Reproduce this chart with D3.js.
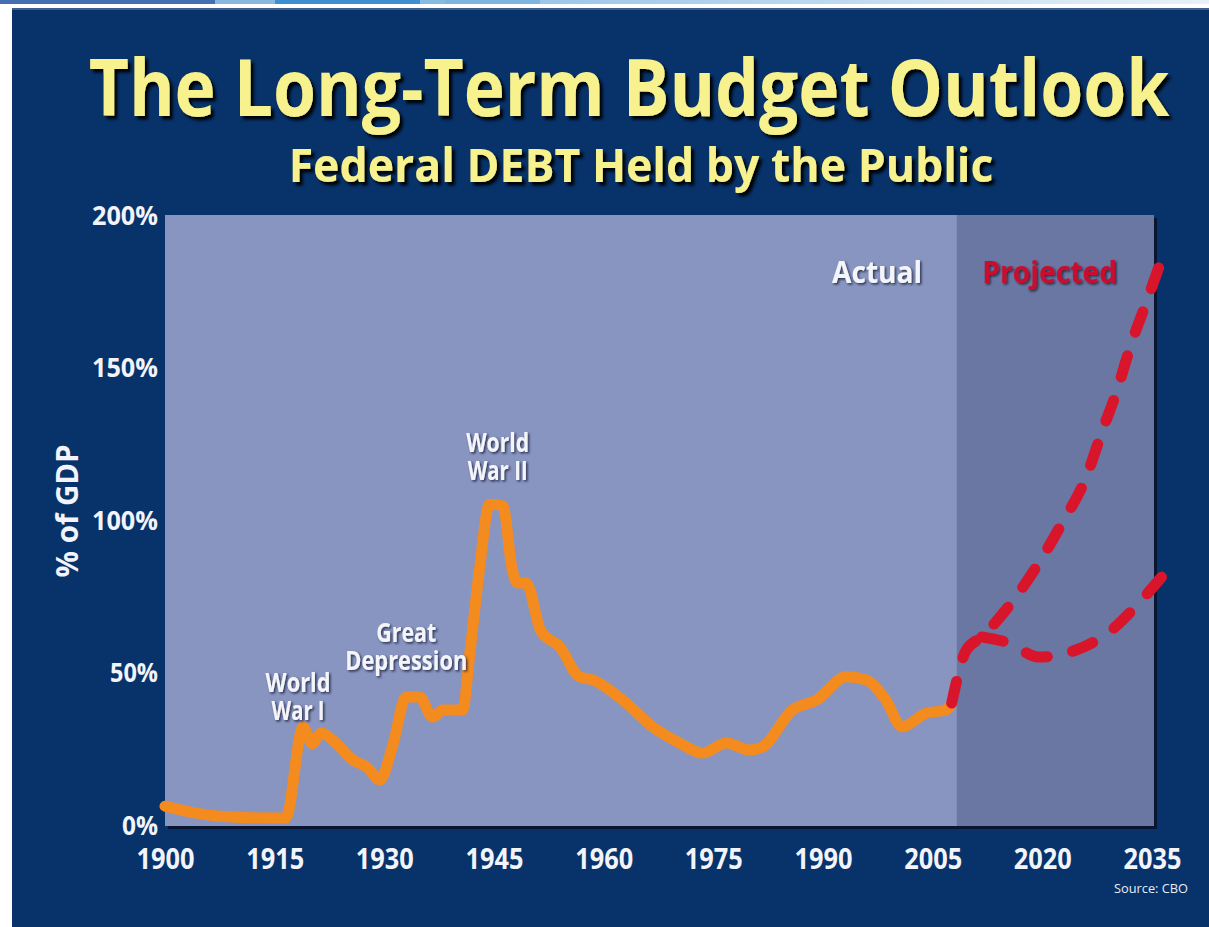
<!DOCTYPE html>
<html><head><meta charset="utf-8">
<script src="https://cdn.jsdelivr.net/npm/d3@7"></script>
<style>html,body{margin:0;padding:0;background:#fff;overflow:hidden}svg{display:block}</style>
</head><body><svg id="c" width="1209" height="927"></svg>
<script>
// ---------- data ----------
const actualYears = [1900,1904,1908.5,1912,1916.5,1918.9,1920.1,1921.4,1923,1925.7,1927.6,1929.4,1931.1,1933,1934.8,1936.6,1938,1940.7,1941.7,1943,1944.4,1946.2,1947.5,1948.2,1949.4,1951.4,1954,1956.7,1958.5,1962.6,1966.7,1970.4,1973.5,1976.8,1979.9,1981.7,1985.8,1989.1,1993.2,1995.9,1998.6,2000.8,2004.1,2006.8,2007.6];
const actualDebt  = [6.5,4.3,3,2.7,2.6,32.5,27,30.5,28,21.6,19.3,15.1,26,42.3,42.3,35.7,38,38,56.7,84,105.5,105,84,79.7,79.7,64,58.7,48.9,47.9,41.3,32.5,27.2,23.9,27.2,24.9,25.9,38,41.3,48.9,47.9,41.3,32.5,37,38,40.3];
const highYears = [2007.6,2009.6,2011.7,2015,2019.5,2022.7,2026,2028.1,2030.1,2032.2,2034.2,2035.9];
const highDebt  = [40.3,57.7,62,70.8,86.2,99.3,114.4,128.9,142,158.4,171.5,183];
const lowYears  = [2011.7,2015.4,2019.5,2024.6,2029.5,2033.2,2036.3];
const lowDebt   = [62,60,55.4,57.7,64.3,73.1,81.6];
const xTicks = [1900,1915,1930,1945,1960,1975,1990,2005,2020,2035];
const yTicks = [0,50,100,150,200];
const projectionStart = 2008.3;
const eventLabels = [
  {lines:["World","War II"], year:1945.5, pct:122.6, widths:[63,60]},
  {lines:["Great","Depression"], year:1933, pct:60.3, widths:[60,122]},
  {lines:["World","War I"], year:1918.2, pct:44, widths:[65,53]}
];

// ---------- setup ----------
const svg = d3.select('#c');
const x = d3.scaleLinear().domain([1900,2035]).range([165,1152]);
const y = d3.scaleLinear().domain([0,200]).range([826,216]);
const FONT = "'Open Sans', 'Noto Sans', sans-serif";

const defs = svg.append('defs');
const f1 = defs.append('filter').attr('id','tshadow').attr('x','-5%').attr('y','-20%').attr('width','115%').attr('height','150%');
f1.append('feDropShadow').attr('dx',3.5).attr('dy',3.5).attr('stdDeviation',1.6).attr('flood-color','#000').attr('flood-opacity',0.95);
const f2 = defs.append('filter').attr('id','sshadow').attr('x','-10%').attr('y','-30%').attr('width','130%').attr('height','170%');
f2.append('feDropShadow').attr('dx',1.5).attr('dy',1.5).attr('stdDeviation',1).attr('flood-color','#0a1430').attr('flood-opacity',0.8);
const g1 = defs.append('linearGradient').attr('id','topgrad');
g1.append('stop').attr('offset','0').attr('stop-color','#9cc6e8');
g1.append('stop').attr('offset','1').attr('stop-color','#e8f1f8');

// ---------- background ----------
svg.append('rect').attr('width',1209).attr('height',927).attr('fill','#fff');
const strip = [[0,215,'#466fb3'],[215,275,'#8ab7e0'],[275,420,'#3c90d2'],[420,445,'#86bbe2'],[445,540,'#7db5e0']];
strip.forEach(s=>svg.append('rect').attr('x',s[0]).attr('y',0).attr('width',s[1]-s[0]).attr('height',4).attr('fill',s[2]));
svg.append('rect').attr('x',540).attr('y',0).attr('width',669).attr('height',4).attr('fill','url(#topgrad)');
svg.append('rect').attr('x',12).attr('y',8).attr('width',1197).attr('height',919).attr('fill','#07326a');
svg.append('rect').attr('x',12).attr('y',8).attr('width',1197).attr('height',2).attr('fill','#3e5f8e');

// ---------- plot area ----------
const pL = x(1900), pR = x(2035)+2, pT = y(200)-1, pB = y(0);
svg.append('rect').attr('x',pL+3).attr('y',pT+3).attr('width',pR-pL).attr('height',pB-pT).attr('fill','#0a1631');
svg.append('rect').attr('x',pL).attr('y',pT).attr('width',pR-pL).attr('height',pB-pT).attr('fill','#8995c1');
svg.append('rect').attr('x',x(projectionStart)).attr('y',pT).attr('width',pR-x(projectionStart)).attr('height',pB-pT).attr('fill','#6a77a2');

// ---------- axes ----------
const xa = svg.append('g').attr('transform',`translate(0,${pB})`)
  .call(d3.axisBottom(x).tickValues(xTicks).tickFormat(d3.format('d')).tickSize(0).tickPadding(23));
xa.select('.domain').remove();
xa.selectAll('text').attr('fill','#f2f4fa').attr('font-family',FONT).attr('font-weight',700).attr('font-size',28)
  .attr('textLength',58).attr('lengthAdjust','spacingAndGlyphs');

const ya = svg.append('g').attr('transform',`translate(${pL},0)`)
  .call(d3.axisLeft(y).tickValues(yTicks).tickFormat(d=>d+'%').tickSize(0).tickPadding(7));
ya.select('.domain').remove();
ya.selectAll('text').attr('fill','#f2f4fa').attr('font-family',FONT).attr('font-weight',700).attr('font-size',26)
  .attr('textLength',d=>d>=100?66:(d>=10?48:36)).attr('lengthAdjust','spacingAndGlyphs');

svg.append('text').attr('transform','translate(78,511) rotate(-90)').attr('text-anchor','middle')
  .attr('fill','#f2f4fa').attr('font-family',FONT).attr('font-weight',700).attr('font-size',30)
  .attr('textLength',133).attr('lengthAdjust','spacingAndGlyphs').text('% of GDP');

// ---------- lines ----------
const line = d3.line().x(d=>x(d[0])).y(d=>y(d[1])).curve(d3.curveMonotoneX);
svg.append('path').attr('d',line(d3.zip(actualYears,actualDebt))).attr('fill','none')
  .attr('stroke','#f38b1f').attr('stroke-width',11).attr('stroke-linejoin','round').attr('stroke-linecap','round');
[[highYears,highDebt],[lowYears,lowDebt]].forEach(([ys,vs])=>{
  const p = svg.append('path').attr('d',line(d3.zip(ys,vs))).attr('fill','none')
    .attr('stroke','#d8152b').attr('stroke-width',11).attr('stroke-linecap','round');
  const len = p.node().getTotalLength();
  const dash = 22, n = Math.max(1, Math.round((len - dash)/49));
  const gap = (len - dash)/n - dash;
  p.attr('stroke-dasharray', `${dash},${gap}`);
});

// ---------- annotations ----------
eventLabels.forEach(ev=>{
  const t = svg.append('text').attr('text-anchor','middle')
    .attr('fill','#f4f5fa').attr('font-family',FONT).attr('font-weight',700).attr('font-size',27)
    .attr('filter','url(#sshadow)');
  ev.lines.forEach((s,i)=>{
    t.append('tspan').attr('x',x(ev.year)).attr('y',y(ev.pct)+i*28)
      .attr('textLength',ev.widths[i]).attr('lengthAdjust','spacingAndGlyphs').text(s);
  });
});
svg.append('text').attr('x',x(1997.4)).attr('y',y(178)).attr('text-anchor','middle')
  .attr('fill','#f4f5fa').attr('font-family',FONT).attr('font-weight',700).attr('font-size',30)
  .attr('textLength',90).attr('lengthAdjust','spacingAndGlyphs').attr('filter','url(#sshadow)').text('Actual');
svg.append('text').attr('x',x(2021)).attr('y',y(178)).attr('text-anchor','middle')
  .attr('fill','#c8102e').attr('font-family',FONT).attr('font-weight',700).attr('font-size',30)
  .attr('textLength',135).attr('lengthAdjust','spacingAndGlyphs').attr('filter','url(#sshadow)').text('Projected');

// ---------- titles (horizontally condensed by measured scale) ----------
function title(txt, cx, cy, size, targetW){
  const t = svg.append('text').attr('x',0).attr('y',0).attr('text-anchor','middle')
    .attr('fill','#f7f18e').attr('font-family',FONT).attr('font-weight',700).attr('font-size',size)
    .attr('filter','url(#tshadow)').text(txt);
  const natural = t.node().getComputedTextLength();
  t.attr('transform',`translate(${cx},${cy}) scale(${targetW/natural},1)`);
}
title('The Long-Term Budget Outlook', 629, 116, 78, 1081);
title('Federal DEBT Held by the Public', 641, 182, 47, 705);

svg.append('text').attr('x',1188).attr('y',893).attr('text-anchor','end')
  .attr('fill','#e8ecf5').attr('font-family',FONT).attr('font-size',12)
  .attr('textLength',74).attr('lengthAdjust','spacingAndGlyphs').text('Source: CBO');
</script></body></html>
